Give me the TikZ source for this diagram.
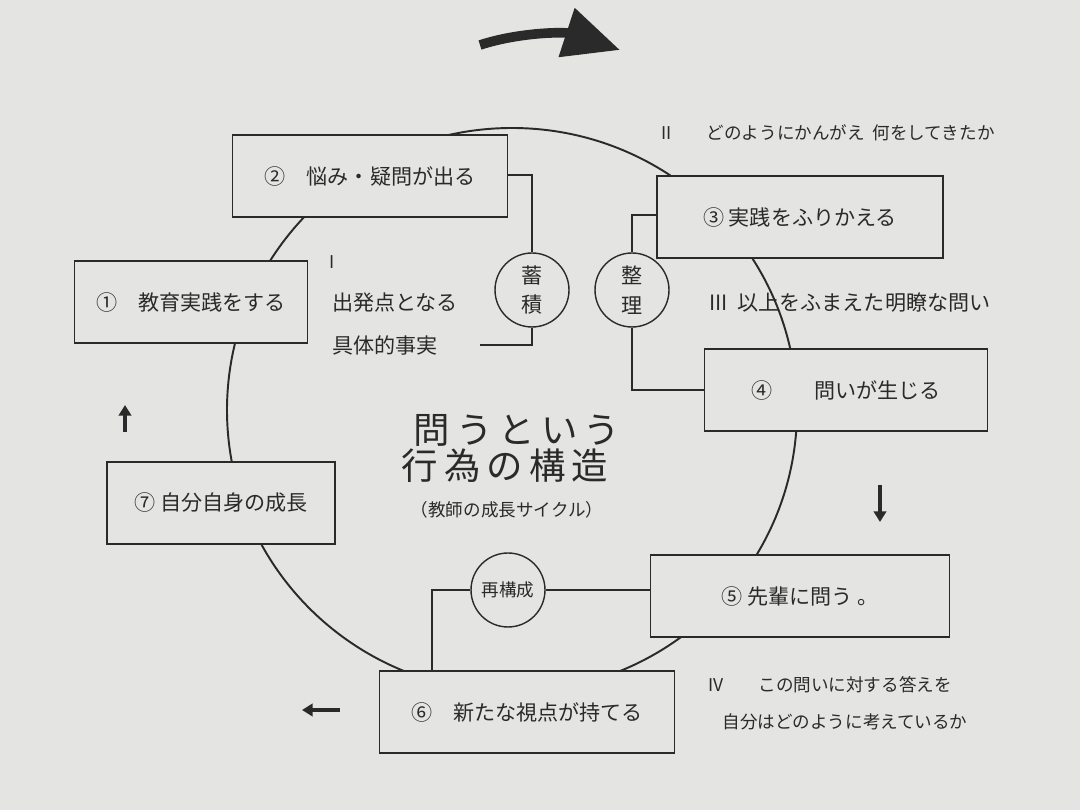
\documentclass[tikz,border=0pt]{standalone}
\usepackage{fontspec}
\setmainfont{Noto Sans CJK JP}
\usetikzlibrary{arrows.meta}
\definecolor{paper}{HTML}{E4E4E2}
\definecolor{ink}{HTML}{2A2A2A}
\tikzset{
  box/.style={draw=ink, fill=paper, thick, minimum width=#1, minimum height=1.64cm, inner sep=0pt},
  ring/.style={draw=ink, fill=paper, thick, circle, minimum size=1.48cm, inner sep=0pt, font=\large},
  lab/.style={text=ink, font=\large},
  note/.style={text=ink, font=\normalsize}
}
\begin{document}
\begin{tikzpicture}[x=0.02cm, y=-0.02cm, thick, ink]
  \fill[paper] (0,0) rectangle (1080,810);
  \useasboundingbox (0,0) rectangle (1080,810);
  % the cycle
  \draw[ink, line width=1.1pt] (512,410) ellipse [x radius=285, y radius=282];
  % boxes
  \node[box=5.5cm, lab] (b2) at (370,176) {②\quad 悩み・疑問が出る};
  \node[box=5.72cm, lab] (b3) at (800,217) {③\ 実践をふりかえる};
  \node[box=4.66cm, lab] (b1) at (191,302) {①\quad 教育実践をする};
  \node[box=5.66cm, lab] (b4) at (846,390) {④\qquad 問いが生じる};
  \node[box=4.56cm, lab] (b7) at (221,503) {⑦\ 自分自身の成長};
  \node[box=5.98cm, lab] (b5) at (800,596) {⑤\ 先輩に問う\ 。};
  \node[box=5.9cm, lab] (b6) at (527,712) {⑥\quad 新たな視点が持てる};
  % small rings
  \node[ring, align=center] (c1) at (532,290) {蓄\\[3pt]積};
  \node[ring, align=center] (c2) at (632,290) {整\\[3pt]理};
  \node[ring, font=\normalsize] (c3) at (508,590) {再構成};
  \coordinate (e1) at (480,345);
  \draw (b2.east |- 0,175) -| (c1.north);
  \draw (c1.south) |- (e1);
  \draw (b3.west |- 0,215) -| (c2.north);
  \draw (c2.south) |- (b4.west);
  \draw (c3.west) -| (432,670);
  \draw (c3.east) -- (b5.west |- c3);
  % labels
  \node[note] (n1) at (332,262) {I};
  \node[lab] (n2) at (395,303) {出発点となる};
  \node[lab] (n3) at (385,345) {具体的事実};
  \node[note] (n4) at (828,133) {II\qquad どのようにかんがえ\ \ 何をしてきたか};
  \node[lab] (n5) at (850,303) {III\ \ 以上をふまえた明瞭な問い};
  \node[note] (n6) at (830,685) {IV\qquad この問いに対する答えを};
  \node[note] (n7) at (845,722) {自分はどのように考えているか};
  \node[font=\huge] (t1) at (517,430) {問\,う\,と\,い\,う};
  \node[font=\huge] (t2) at (505,466) {行\,為\,の\,構\,造};
  \node[font=\normalsize] (t3) at (507,510) {（教師の成長サイクル）};
  % direction arrows
  \draw[line width=5.5pt, -{Triangle[length=32pt,width=28pt]}] (480,45) .. controls (520,32) and (565,32) .. (620,50);
  \draw[line width=2pt, -{Triangle[length=6pt,width=7pt]}] (125,432) -- (125,405);
  \draw[line width=2pt, -{Triangle[length=6pt,width=7pt]}] (880,485) -- (880,522);
  \draw[line width=2pt, -{Triangle[length=6pt,width=7pt]}] (340,710) -- (302,710);
\end{tikzpicture}
\end{document}
